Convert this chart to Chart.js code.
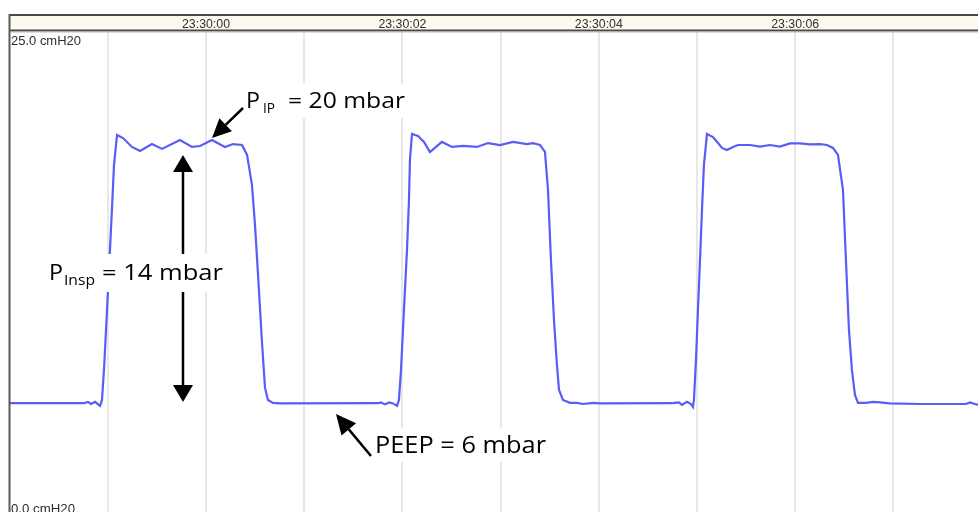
<!DOCTYPE html>
<html><head><meta charset="utf-8">
<script src="https://cdn.jsdelivr.net/npm/chart.js@4/dist/chart.umd.min.js"></script>
<style>html,body{margin:0;padding:0;background:#fff;overflow:hidden}canvas{display:block}</style>
</head><body>
<canvas id="c" width="978" height="512"></canvas>
<script>
// time in seconds relative to 23:30:00
const timeSec = [-1.996,-1.242,-1.202,-1.171,-1.130,-1.079,-1.059,-1.039,-1.018,-0.998,-0.978,-0.957,-0.937,-0.906,-0.845,-0.754,-0.672,-0.550,-0.448,-0.265,-0.143,-0.061,0.061,0.193,0.275,0.367,0.418,0.468,0.499,0.530,0.570,0.601,0.631,0.682,0.754,
1.752,1.782,1.823,1.864,1.904,1.945,1.965,1.986,2.006,2.026,2.047,2.067,2.077,2.098,2.159,2.220,2.281,2.342,2.403,2.505,2.617,2.760,2.872,2.994,3.126,3.269,3.330,3.401,3.452,3.483,3.513,3.544,3.574,3.595,3.635,3.707,3.778,3.839,3.941,4.012,
4.745,4.776,4.817,4.847,4.898,4.939,4.959,4.969,4.990,5.010,5.031,5.051,5.071,5.102,5.163,5.214,5.255,5.305,5.367,5.418,5.540,5.642,5.743,5.845,5.947,6.049,6.151,6.253,6.324,6.385,6.436,6.487,6.517,6.548,6.578,6.609,6.640,6.721,6.792,6.864,6.965,7.271,7.739,7.780,7.831,7.862];
// airway pressure, cmH2O
const pressure = [5.77,5.77,5.84,5.73,5.84,5.63,5.94,7.49,9.56,11.62,13.69,15.86,18.08,19.63,19.47,19.01,18.80,19.16,18.91,19.37,19.01,19.06,19.37,19.01,19.16,19.11,18.60,17.05,14.98,12.40,8.94,6.56,5.94,5.79,5.76,
5.77,5.81,5.71,5.81,5.76,5.63,5.94,7.49,9.56,11.62,13.69,16.27,18.34,19.68,19.58,19.27,18.75,19.01,19.27,19.01,19.06,19.01,19.21,19.11,19.27,19.16,19.21,19.11,18.75,16.79,13.17,10.07,7.75,6.46,5.94,5.79,5.79,5.73,5.79,5.76,
5.77,5.79,5.81,5.68,5.84,5.73,5.58,5.94,8.01,10.59,13.17,15.75,18.08,19.68,19.52,19.21,18.96,18.85,19.01,19.11,19.11,19.03,19.11,19.03,19.19,19.19,19.14,19.16,19.11,18.96,18.60,16.79,13.17,9.56,7.49,6.20,5.79,5.79,5.84,5.81,5.76,5.73,5.73,5.81,5.73,5.68];
const tickValues = [0, 2, 4, 6];
const tickLabels = ['23:30:00', '23:30:02', '23:30:04', '23:30:06'];
const yLabelValues = [25, 0];
const yLabels = ['25.0 cmH20', '0.0 cmH20'];

const X_MIN = -1.996, X_MAX = 7.862, Y_MIN = 0.15, Y_MAX = 25;

function fitText(ctx, text, x, base, w, font) {
  ctx.save();
  ctx.font = font;
  const m = ctx.measureText(text).width;
  ctx.translate(x, base);
  ctx.scale(w / m, 1);
  ctx.fillText(text, 0, 0);
  ctx.restore();
}
function arrow(ctx, x1, y1, x2, y2, hl, hw) {
  const dx = x2 - x1, dy = y2 - y1, L = Math.hypot(dx, dy);
  const ux = dx / L, uy = dy / L;
  const bx = x2 - ux * hl, by = y2 - uy * hl;
  ctx.beginPath(); ctx.moveTo(x1, y1); ctx.lineTo(bx, by); ctx.stroke();
  ctx.beginPath(); ctx.moveTo(x2, y2);
  ctx.lineTo(bx - uy * hw, by + ux * hw);
  ctx.lineTo(bx + uy * hw, by - ux * hw);
  ctx.closePath(); ctx.fill();
}

const framePlugin = {
  id: 'frame',
  afterDraw(chart) {
    const ctx = chart.ctx, xs = chart.scales.x, ys = chart.scales.y;
    ctx.save();
    // top time strip
    ctx.fillStyle = '#fdf9ee';
    ctx.fillRect(9, 15, 969, 16);
    ctx.fillStyle = '#4a4a4a';
    ctx.fillRect(9, 14, 969, 2);
    ctx.fillRect(9, 29.5, 969, 2);
    ctx.fillStyle = '#bdbdbd';
    ctx.fillRect(9, 31.5, 969, 1);
    // left border
    ctx.fillStyle = '#5a5a5a';
    ctx.fillRect(8.5, 14, 2, 498);
    // time labels
    ctx.fillStyle = '#2e2e2e';
    ctx.font = '13px "Liberation Sans", Arial, sans-serif';
    ctx.textAlign = 'left'; ctx.textBaseline = 'alphabetic';
    tickValues.forEach((v, i) => fitText(ctx, tickLabels[i], xs.getPixelForValue(v) - 24, 27.5, 48, '13px "Liberation Sans", Arial, sans-serif'));
    // y labels
    fitText(ctx, yLabels[0], 11, ys.getPixelForValue(yLabelValues[0]) + 14, 70, '13px "Liberation Sans", Arial, sans-serif');
    fitText(ctx, yLabels[1], 11, ys.getPixelForValue(yLabelValues[1]) - 2, 64, '13px "Liberation Sans", Arial, sans-serif');

    // annotations
    ctx.fillStyle = '#000'; ctx.strokeStyle = '#000'; ctx.lineWidth = 2.5;
    arrow(ctx, 183, 280, 183, 155, 17, 10);
    arrow(ctx, 183, 270, 183, 402, 17, 10);
    // white boxes behind text
    ctx.fillStyle = '#fff';
    ctx.fillRect(45, 254, 182, 38);
    ctx.fillRect(243, 84, 166, 34);
    ctx.fillRect(372, 428, 178, 34);
    ctx.fillStyle = '#000';
    arrow(ctx, 243, 108, 212, 138, 19, 9);
    arrow(ctx, 371, 456, 336, 414, 20, 9.5);
    const F = '"Open Sans", sans-serif';
    fitText(ctx, 'P', 246, 108, 14, '22px ' + F);
    fitText(ctx, 'IP', 263, 113, 12, '14px ' + F);
    fitText(ctx, '= 20 mbar', 288, 108, 117, '22px ' + F);
    fitText(ctx, 'P', 49, 280, 14, '22px ' + F);
    fitText(ctx, 'Insp', 64, 285, 31, '14px ' + F);
    fitText(ctx, '= 14 mbar', 102, 280, 121, '22px ' + F);
    fitText(ctx, 'PEEP = 6 mbar', 375, 453, 171, '23px ' + F);
    ctx.restore();
  }
};

new Chart(document.getElementById('c'), {
  type: 'line',
  data: {
    datasets: [{
      data: timeSec.map((t, i) => ({ x: t, y: pressure[i] })),
      borderColor: '#5a5cf8',
      borderWidth: 2.2,
      pointRadius: 0,
      tension: 0,
      fill: false
    }]
  },
  options: {
    responsive: false,
    animation: false,
    events: [],
    layout: { padding: { left: 10, right: 0, top: 0, bottom: 0 } },
    plugins: { legend: { display: false }, tooltip: { enabled: false } },
    scales: {
      x: {
        type: 'linear', position: 'top', min: X_MIN, max: X_MAX,
        afterFit(s) { s.height = 31; },
        ticks: { display: false, stepSize: 1, includeBounds: false },
        grid: { color: '#e8e8e8', lineWidth: 2, drawTicks: false },
        border: { display: false }
      },
      y: { display: false, min: Y_MIN, max: Y_MAX }
    }
  },
  plugins: [framePlugin]
});
</script>
</body></html>
